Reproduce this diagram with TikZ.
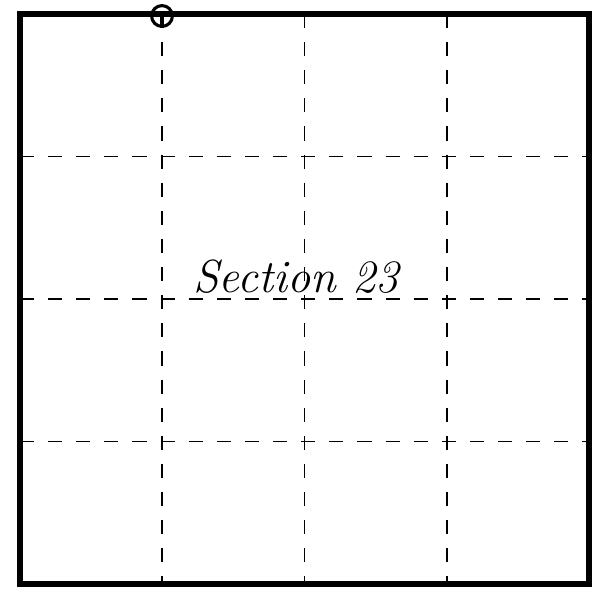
\documentclass[tikz,border=0pt]{standalone}
\usepackage{tikz}
\usetikzlibrary{positioning}
\tikzset{
  outline/.style={line width=3.6pt},
  gridline/.style={line width=1.4pt,dash pattern=on 10pt off 10pt},
  marker/.style={circle,draw,line width=2.2pt,minimum size=0.52cm,inner sep=0pt},
}
\begin{document}
\begin{tikzpicture}[x=0.025cm,y=-0.025cm]
\useasboundingbox (0,0) rectangle (594,589);
% Section outline
\draw[outline] (20,14) rectangle (589,584);
% Quarter-quarter lines (dashed)
\foreach \i in {1,2,3}{
  \draw[gridline] (20+142.25*\i,14) -- (20+142.25*\i,584);
  \draw[gridline] (20,14+142.5*\i) -- (589,14+142.5*\i);
}
% Corner marker on the north line
\node[marker] (corner) at (162,16) {};
\draw[line width=2.2pt] (corner.center) -- (corner.south);
% Label
\node[font=\fontsize{33}{36}\selectfont\itshape,anchor=base] (sec) at (296,293) {Section 23};
\end{tikzpicture}
\end{document}
